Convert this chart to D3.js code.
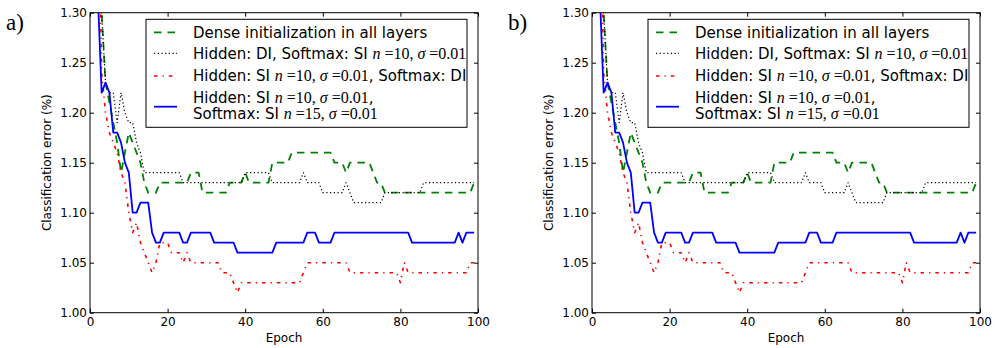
<!DOCTYPE html>
<html>
<head>
<meta charset="utf-8">
<script src="https://cdn.jsdelivr.net/npm/d3@7"></script>
<style>
  body { margin: 0; background: #fff; }
  svg { display: block; }
  text { font-family: 'DejaVu Sans', sans-serif; fill: #000; }
  .math { font-family: 'Liberation Serif', 'DejaVu Serif', serif; }
</style>
</head>
<body>
<svg id="chart" width="1000" height="348"></svg>
<script>
// epochs 1..99
const epochs = d3.range(1, 100);

// Dense initialization in all layers (green dashed)
const denseAll = [
  1.50, 1.40, 1.30, 1.23, 1.21, 1.19, 1.17, 1.14, 1.16, 1.18,
  1.17, 1.16, 1.15, 1.13, 1.12, 1.12, 1.12, 1.13, 1.13, 1.13,
  1.13, 1.13, 1.13, 1.13, 1.13, 1.14, 1.14, 1.14, 1.12, 1.12,
  1.12, 1.12, 1.12, 1.12, 1.12, 1.13, 1.13, 1.13, 1.13, 1.14,
  1.13, 1.13, 1.13, 1.13, 1.13, 1.13, 1.15, 1.15, 1.15, 1.15,
  1.15, 1.16, 1.16, 1.16, 1.16, 1.16, 1.16, 1.16, 1.16, 1.16,
  1.16, 1.16, 1.15, 1.15, 1.15, 1.14, 1.15, 1.15, 1.15, 1.15,
  1.15, 1.15, 1.14, 1.13, 1.13, 1.12, 1.12, 1.12, 1.12, 1.12,
  1.12, 1.12, 1.12, 1.12, 1.12, 1.12, 1.12, 1.12, 1.12, 1.12,
  1.12, 1.12, 1.12, 1.12, 1.12, 1.12, 1.12, 1.12, 1.13
];

// Hidden: DI, Softmax: SI (black dotted)
const hiddenDI = [
  1.50, 1.40, 1.30, 1.23, 1.22, 1.22, 1.19, 1.22, 1.20, 1.19,
  1.19, 1.17, 1.16, 1.14, 1.14, 1.14, 1.14, 1.14, 1.14, 1.14,
  1.14, 1.14, 1.14, 1.13, 1.13, 1.13, 1.13, 1.13, 1.13, 1.13,
  1.13, 1.13, 1.13, 1.13, 1.13, 1.13, 1.13, 1.13, 1.13, 1.14,
  1.14, 1.14, 1.14, 1.14, 1.14, 1.14, 1.13, 1.13, 1.13, 1.13,
  1.13, 1.13, 1.13, 1.13, 1.14, 1.13, 1.13, 1.13, 1.13, 1.12,
  1.12, 1.12, 1.12, 1.12, 1.12, 1.13, 1.12, 1.11, 1.11, 1.11,
  1.11, 1.11, 1.11, 1.11, 1.11, 1.12, 1.12, 1.12, 1.12, 1.12,
  1.12, 1.12, 1.12, 1.12, 1.12, 1.13, 1.13, 1.13, 1.13, 1.13,
  1.13, 1.13, 1.13, 1.13, 1.13, 1.13, 1.13, 1.13, 1.13
];

// Hidden: SI, Softmax: DI (red dash-dot)
const hiddenSI = [
  1.55, 1.45, 1.24, 1.20, 1.18, 1.17, 1.16, 1.14, 1.13, 1.10,
  1.08, 1.09, 1.07, 1.06, 1.05, 1.04, 1.05, 1.07, 1.07, 1.07,
  1.06, 1.06, 1.06, 1.05, 1.06, 1.05, 1.05, 1.05, 1.05, 1.05,
  1.05, 1.05, 1.05, 1.04, 1.04, 1.04, 1.03, 1.02, 1.03, 1.03,
  1.03, 1.03, 1.03, 1.03, 1.03, 1.03, 1.03, 1.03, 1.03, 1.03,
  1.03, 1.03, 1.03, 1.03, 1.04, 1.05, 1.05, 1.05, 1.05, 1.05,
  1.05, 1.05, 1.05, 1.05, 1.05, 1.05, 1.04, 1.04, 1.04, 1.04,
  1.04, 1.04, 1.04, 1.04, 1.04, 1.04, 1.04, 1.04, 1.04, 1.03,
  1.05, 1.04, 1.04, 1.04, 1.04, 1.04, 1.04, 1.04, 1.04, 1.04,
  1.04, 1.04, 1.04, 1.04, 1.04, 1.04, 1.04, 1.05, 1.05
];

// Hidden: SI, Softmax: SI (blue solid)
const bothSI = [
  1.45, 1.32, 1.22, 1.23, 1.22, 1.18, 1.18, 1.17, 1.15, 1.14,
  1.10, 1.10, 1.11, 1.11, 1.11, 1.08, 1.07, 1.07, 1.08, 1.08,
  1.08, 1.08, 1.08, 1.07, 1.07, 1.08, 1.08, 1.08, 1.08, 1.08,
  1.08, 1.07, 1.07, 1.07, 1.07, 1.07, 1.07, 1.06, 1.06, 1.06,
  1.06, 1.06, 1.06, 1.06, 1.06, 1.06, 1.06, 1.07, 1.07, 1.07,
  1.07, 1.07, 1.07, 1.07, 1.07, 1.08, 1.08, 1.08, 1.07, 1.07,
  1.07, 1.07, 1.08, 1.08, 1.08, 1.08, 1.08, 1.08, 1.08, 1.08,
  1.08, 1.08, 1.08, 1.08, 1.08, 1.08, 1.08, 1.08, 1.08, 1.08,
  1.08, 1.08, 1.07, 1.07, 1.07, 1.07, 1.07, 1.07, 1.07, 1.07,
  1.07, 1.07, 1.07, 1.07, 1.08, 1.07, 1.08, 1.08, 1.08
];

const xTicks = [0, 20, 40, 60, 80, 100];
const yTicks = [1.00, 1.05, 1.10, 1.15, 1.20, 1.25, 1.30];
const panelLabels = ['a)', 'b)'];

// legend rows: plain text pieces and math pieces (italic symbol / upright)
const series = [
  { values: denseAll, color: '#008000', dash: '7.5,6', width: 1.8,
    lines: [[['t', 'Dense initialization in all layers']]] },
  { values: hiddenDI, color: '#000', dash: '1.2,2.5', width: 1.2,
    lines: [[['t', 'Hidden: DI, Softmax: SI '], ['i', 'n'], ['m', ' =10, '], ['i', 'σ'], ['m', ' =0.01']]] },
  { values: hiddenSI, color: '#ff0000', dash: '3.5,5,1.3,5', width: 1.6,
    lines: [[['t', 'Hidden: SI '], ['i', 'n'], ['m', ' =10, '], ['i', 'σ'], ['m', ' =0.01'], ['t', ', Softmax: DI']]] },
  { values: bothSI, color: '#0000ff', dash: null, width: 1.8,
    lines: [
      [['t', 'Hidden: SI '], ['i', 'n'], ['m', ' =10, '], ['i', 'σ'], ['m', ' =0.01'], ['t', ',']],
      [['t', 'Softmax: SI '], ['i', 'n'], ['m', ' =15, '], ['i', 'σ'], ['m', ' =0.01']]
    ] }
];

const svg = d3.select('#chart');
const W = 388, H = 300, topY = 12.7;
const panelLefts = [90, 592];

function drawPanel(left, label, idx) {
  const x = d3.scaleLinear().domain([0, 100]).range([0, W]);
  const y = d3.scaleLinear().domain([1.0, 1.3]).range([H, 0]);
  const g = svg.append('g').attr('transform', `translate(${left},${topY})`);

  g.append('clipPath').attr('id', 'clip' + idx)
    .append('rect').attr('width', W).attr('height', H);

  const line = d3.line().x((d, i) => x(epochs[i])).y(d => y(d));
  const plot = g.append('g').attr('clip-path', `url(#clip${idx})`);
  series.forEach(s => {
    plot.append('path')
      .attr('d', line(s.values))
      .attr('fill', 'none')
      .attr('stroke', s.color)
      .attr('stroke-width', s.width)
      .attr('stroke-dasharray', s.dash)
      .attr('stroke-linejoin', 'round');
  });

  // axes, ticks pointing inward on all four sides
  const fmtY = d3.format('.2f');
  const ax = [
    g.append('g').attr('transform', `translate(0,${H})`)
      .call(d3.axisBottom(x).tickValues(xTicks).tickSize(-4).tickPadding(5)),
    g.append('g')
      .call(d3.axisLeft(y).tickValues(yTicks).tickSize(-4).tickPadding(3).tickFormat(fmtY)),
    g.append('g')
      .call(d3.axisTop(x).tickValues(xTicks).tickSize(-4).tickFormat('')),
    g.append('g').attr('transform', `translate(${W},0)`)
      .call(d3.axisRight(y).tickValues(yTicks).tickSize(-4).tickFormat(''))
  ];
  ax.forEach(a => {
    a.select('.domain').remove();
    a.selectAll('line').attr('stroke', '#000');
    a.selectAll('text').style('font-family', "'DejaVu Sans', sans-serif").style('font-size', '12px').attr('fill', '#000');
  });
  g.append('rect').attr('width', W).attr('height', H)
    .attr('fill', 'none').attr('stroke', '#000').attr('stroke-width', 1);

  g.append('text')
    .attr('transform', `translate(${-39},${H / 2}) rotate(-90)`)
    .attr('text-anchor', 'middle')
    .style('font-size', '12px')
    .text('Classification error (%)');
  g.append('text')
    .attr('x', W / 2).attr('y', 342 - topY)
    .attr('text-anchor', 'middle')
    .style('font-size', '12px')
    .text('Epoch');

  svg.append('text')
    .attr('x', left - 84).attr('y', 30)
    .attr('class', 'math')
    .style('font-size', '23px')
    .text(label);

  // legend
  const lg = g.append('g').attr('transform', `translate(56,6.6)`);
  lg.append('rect').attr('width', 321).attr('height', 108)
    .attr('fill', '#fff').attr('stroke', '#000').attr('stroke-width', 1);
  const rowY = [[13], [34], [56.7], [78, 94]];
  const sampleY = [13, 34, 56.7, 87.4];
  series.forEach((s, i) => {
    lg.append('line')
      .attr('x1', 8).attr('x2', 31)
      .attr('y1', sampleY[i]).attr('y2', sampleY[i])
      .attr('stroke', s.color).attr('stroke-width', s.width)
      .attr('stroke-dasharray', s.dash);
    s.lines.forEach((parts, j) => {
      const t = lg.append('text')
        .attr('x', 47).attr('y', rowY[i][j]).attr('dy', '0.36em')
        .style('font-size', '15px');
      parts.forEach(([kind, str]) => {
        const ts = t.append('tspan').text(str);
        if (kind !== 't') {
          ts.style('font-family', "'Liberation Serif', serif").style('font-size', '16px');
          if (kind === 'i') ts.style('font-style', 'italic');
        }
      });
    });
  });
}

panelLefts.forEach((l, i) => drawPanel(l, panelLabels[i], i));
</script>
</body>
</html>
